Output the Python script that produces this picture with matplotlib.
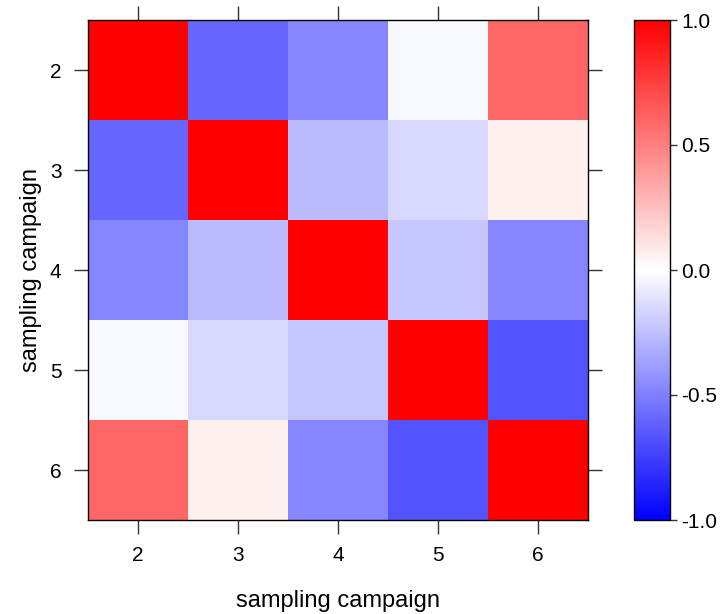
import numpy as np
import matplotlib.pyplot as plt
from matplotlib.colors import LinearSegmentedColormap

plt.rcParams['font.family'] = ['Liberation Sans', 'DejaVu Sans']

# campagnes et matrice de correlation
campaigns = [2, 3, 4, 5, 6]
corr = np.array([
    [1.00, -0.60, -0.47, -0.03, 0.60],
    [-0.60, 1.00, -0.27, -0.15, 0.06],
    [-0.47, -0.27, 1.00, -0.22, -0.47],
    [-0.03, -0.15, -0.22, 1.00, -0.67],
    [0.60, 0.06, -0.47, -0.67, 1.00],
])
cb_ticks = [-1.0, -0.5, 0.0, 0.5, 1.0]

cmap = LinearSegmentedColormap.from_list('bwr2', ['#0000ff', '#ffffff', '#ff0000'])

fig = plt.figure(figsize=(7.28, 6.14), dpi=100)
ax = fig.add_axes([88/728, 94/614, 500/728, 500/614])
cax = fig.add_axes([634/728, 94/614, 36/728, 500/614])

n = len(campaigns)
edges = np.arange(n + 1) - 0.5
mesh = ax.pcolormesh(edges, edges, corr, cmap=cmap, vmin=-1, vmax=1)
ax.set_xlim(-0.5, n - 0.5)
ax.set_ylim(n - 0.5, -0.5)
ax.set_xticks(range(n))
ax.set_xticklabels(campaigns)
ax.set_yticks(range(n))
ax.set_yticklabels(campaigns)
ax.tick_params(axis='both', which='both', direction='out', length=10, width=1,
               color='#333333', labelsize=15, pad=9,
               top=True, right=True, labeltop=False, labelright=False)
ax.set_xlabel('sampling campaign', fontsize=17, labelpad=18)
ax.set_ylabel('sampling campaign', fontsize=17, labelpad=6)
for s in ax.spines.values():
    s.set_linewidth(1)

cb = fig.colorbar(mesh, cax=cax, ticks=cb_ticks)
cb.ax.set_yticklabels(['%.1f' % t for t in cb_ticks])
cb.ax.tick_params(direction='out', length=5, width=1, color='#333333',
                  labelsize=15, pad=3)
cb.outline.set_linewidth(1)

plt.savefig('out.png', dpi=100)
